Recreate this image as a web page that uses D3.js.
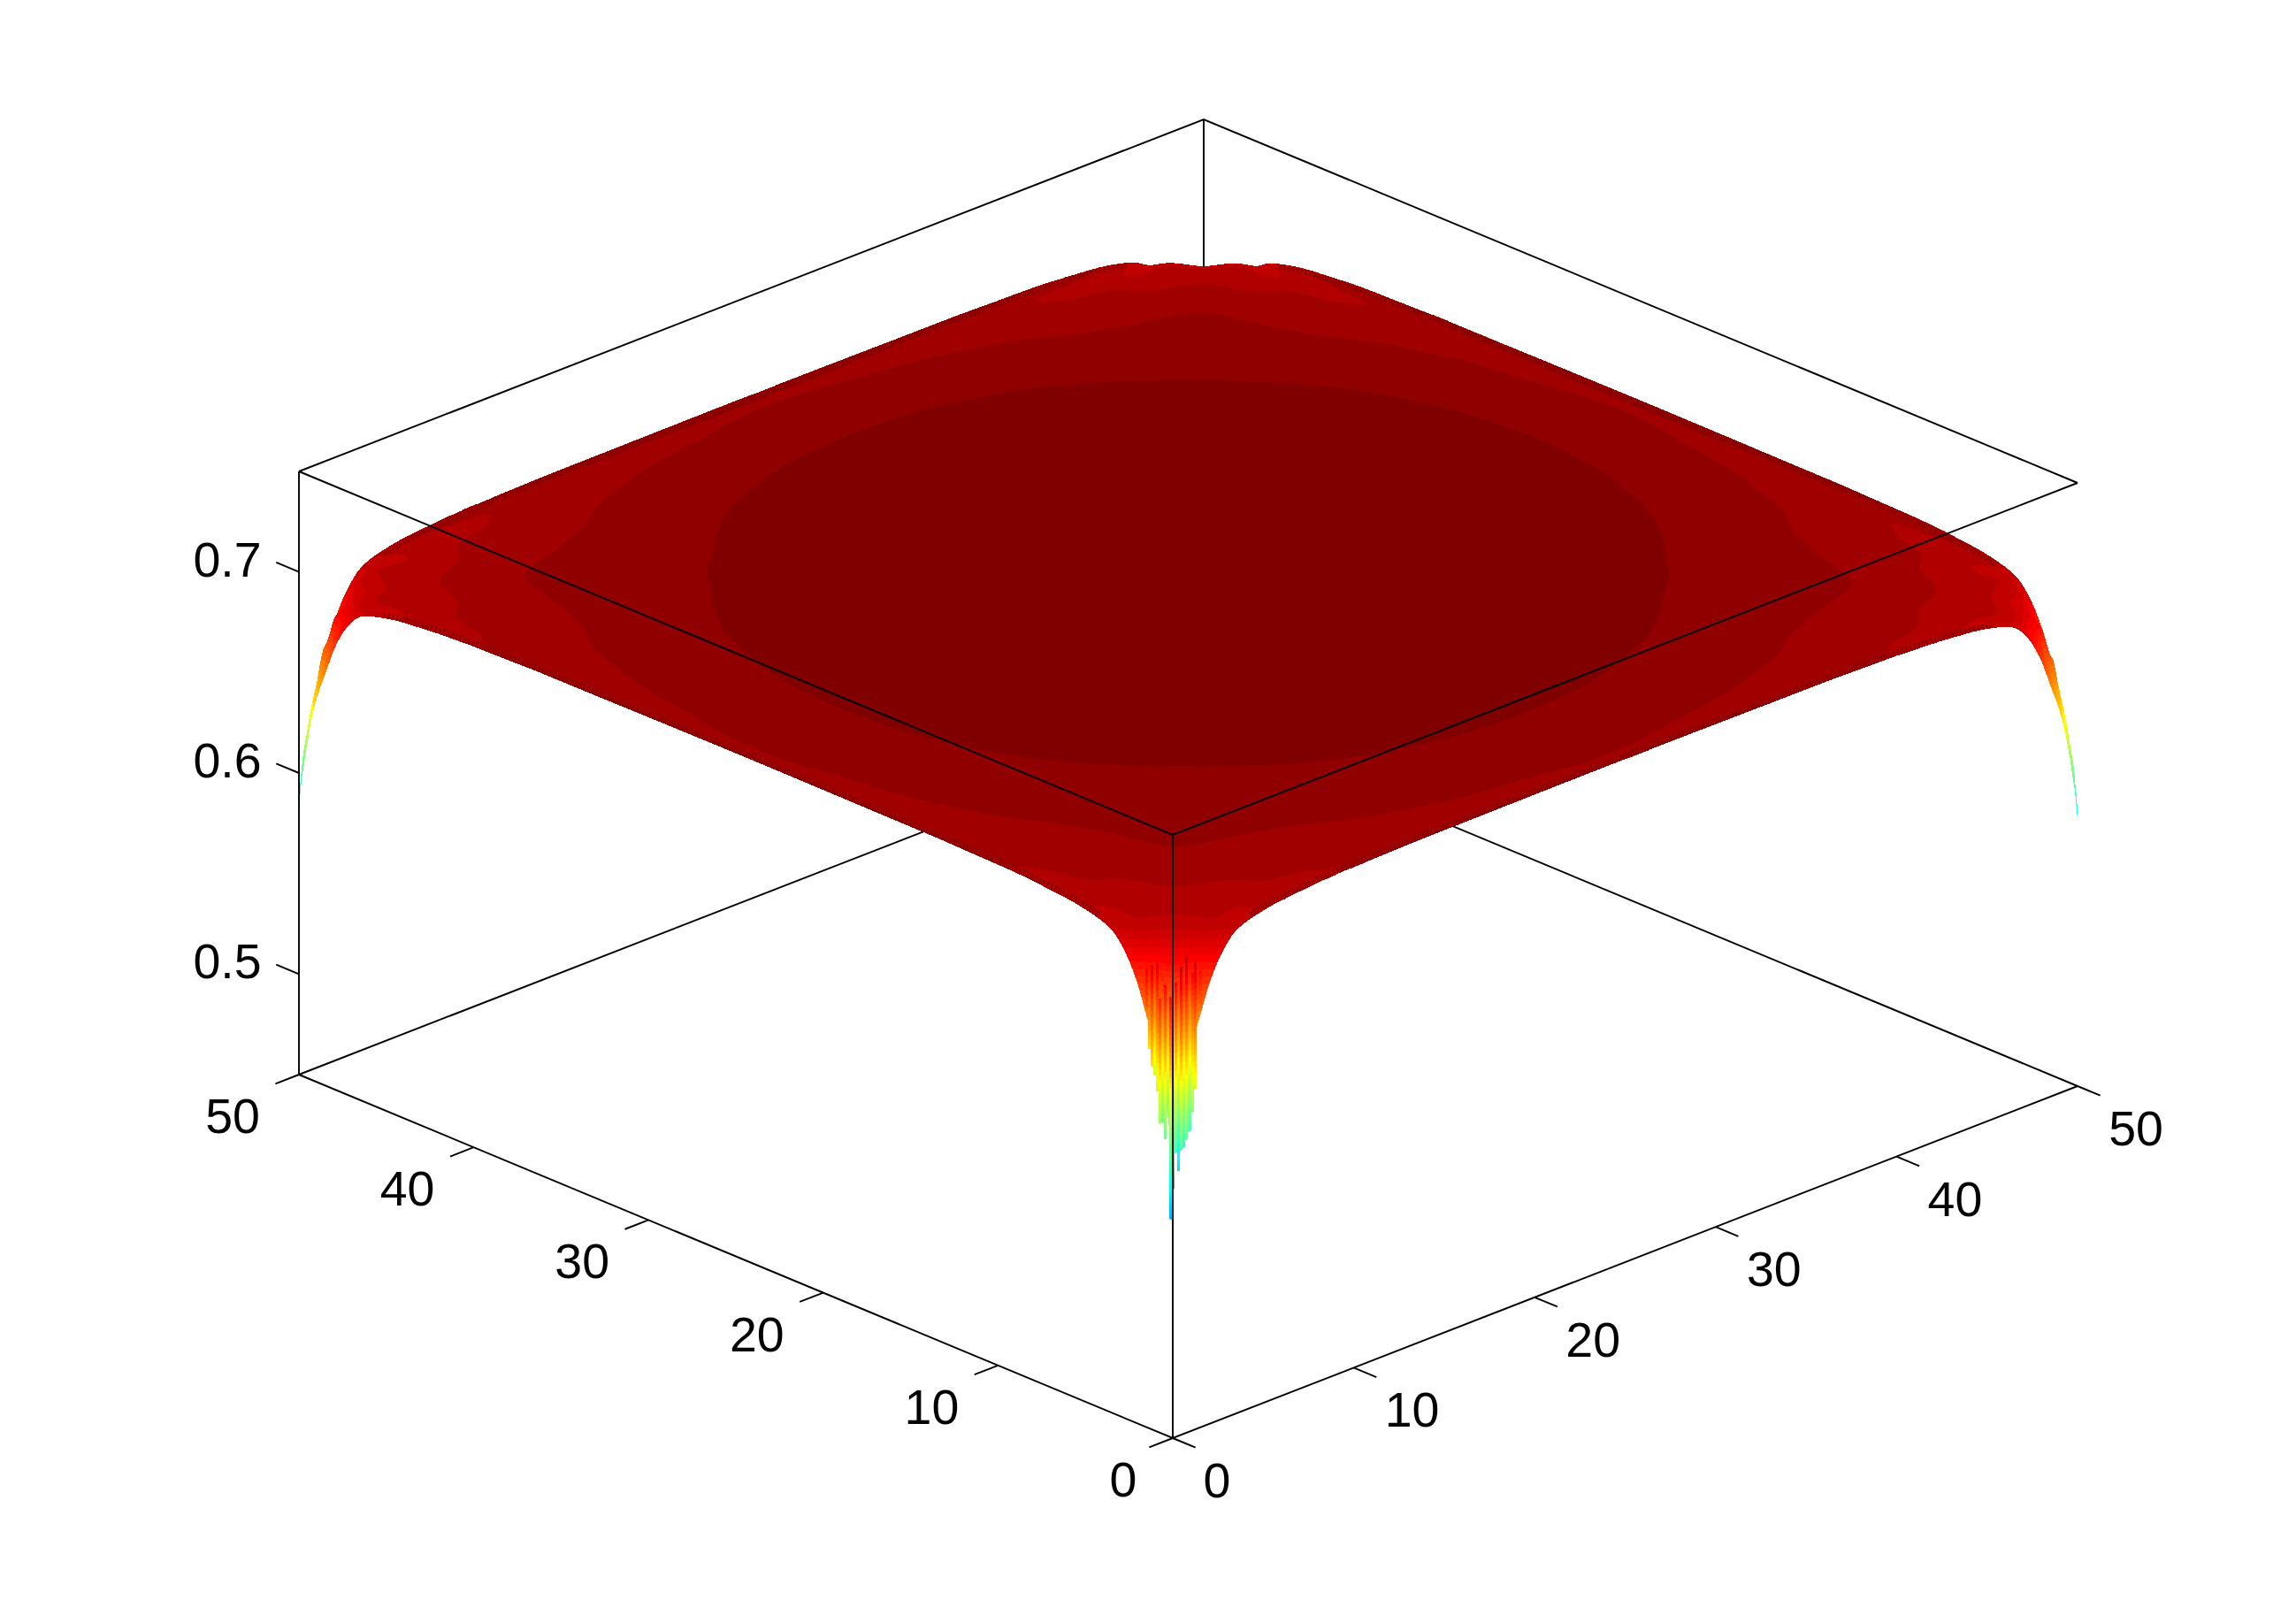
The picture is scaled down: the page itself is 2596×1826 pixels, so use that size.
<!DOCTYPE html>
<html>
<head>
<meta charset="utf-8">
<script src="https://cdn.jsdelivr.net/npm/d3@7"></script>
<style>
  body { margin: 0; background: #fff; }
  text { font-family: "Liberation Sans", Arial, sans-serif; font-size: 55.5px; fill: #000; }
</style>
</head>
<body>
<div id="chart"></div>
<script>
const WIDTH = 2596;
const HEIGHT = 1826;

const xTicks = [0, 10, 20, 30, 40, 50];
const yTicks = [0, 10, 20, 30, 40, 50];
const zTicks = [0.5, 0.6, 0.7];
const zLimits = [0.45, 0.75];
const colorLimits = [0.5131, 0.7051];

// surface is symmetric about x=25 and y=25, so only one corner of it is listed.
// gridDist = distance from an edge, zRows[j][i] = height at (gridDist[i], gridDist[j]), i <= j
const gridDist = [0, 0.05, 0.12, 0.25, 0.45, 0.7, 1, 1.5, 2, 2.7, 3.5, 4.5, 5.8, 7, 9, 11.4, 14, 17, 21, 25];
const zRows = [
  [0.585],
  [0.59, 0.595],
  [0.597, 0.6, 0.603],
  [0.608, 0.61, 0.613, 0.6175],
  [0.618, 0.62, 0.624, 0.63, 0.64],
  [0.63, 0.632, 0.635, 0.64, 0.648, 0.662],
  [0.641, 0.643, 0.646, 0.65, 0.656, 0.664, 0.677],
  [0.655, 0.657, 0.66, 0.664, 0.669, 0.675, 0.681, 0.687],
  [0.669, 0.67, 0.672, 0.675, 0.678, 0.682, 0.686, 0.6895, 0.6905],
  [0.682, 0.683, 0.684, 0.6855, 0.6875, 0.69, 0.6915, 0.6925, 0.693, 0.694],
  [0.6905, 0.6905, 0.6905, 0.6905, 0.691, 0.692, 0.693, 0.6936, 0.6941, 0.6949, 0.6955],
  [0.694, 0.6938, 0.6935, 0.6931, 0.6928, 0.6926, 0.6928, 0.6935, 0.6942, 0.6951, 0.696, 0.6968],
  [0.6964, 0.6962, 0.6958, 0.6952, 0.694, 0.6936, 0.6938, 0.6945, 0.695, 0.6957, 0.6965, 0.6974, 0.6985],
  [0.6975, 0.6972, 0.6968, 0.696, 0.695, 0.6945, 0.6948, 0.6957, 0.6962, 0.6968, 0.6974, 0.6983, 0.699, 0.6996],
  [0.699, 0.6987, 0.6983, 0.6975, 0.6958, 0.6956, 0.6959, 0.6962, 0.6966, 0.6972, 0.6979, 0.6986, 0.6993, 0.6999, 0.7009],
  [0.6995, 0.6993, 0.699, 0.6985, 0.6972, 0.6968, 0.6968, 0.697, 0.6973, 0.6978, 0.6984, 0.6991, 0.6998, 0.7004, 0.7012, 0.70205],
  [0.7, 0.6998, 0.6995, 0.699, 0.698, 0.6978, 0.6978, 0.698, 0.6983, 0.6988, 0.6994, 0.7, 0.7006, 0.7013, 0.702, 0.7027, 0.7034],
  [0.7001, 0.6999, 0.6997, 0.6992, 0.6985, 0.6984, 0.6984, 0.6987, 0.699, 0.6994, 0.6998, 0.7003, 0.701, 0.7019, 0.7026, 0.7033, 0.7039, 0.7043],
  [0.7003, 0.7001, 0.6999, 0.6994, 0.6988, 0.6988, 0.6989, 0.6991, 0.6994, 0.6998, 0.7003, 0.7009, 0.7019, 0.7025, 0.7032, 0.7038, 0.7043, 0.7046, 0.7049],
  [0.7004, 0.7002, 0.7, 0.6995, 0.699, 0.699, 0.6991, 0.6994, 0.6997, 0.7001, 0.7006, 0.7013, 0.7021, 0.7027, 0.7034, 0.704, 0.7045, 0.7048, 0.705, 0.705]
];

// the front corner breaks up into vertical stripes:
// stripe position as x-y, highest and lowest height of the stripe, colour offset of the stripe
const stripeU = [-1.62, -1.47, -1.32, -1.17, -1.02, -0.87, -0.72, -0.57, -0.42, -0.27, -0.12, 0.03, 0.18, 0.33, 0.48, 0.63, 0.78, 0.93, 1.08, 1.23, 1.38, 1.53];
const stripeTop = [0.672, 0.678, 0.668, 0.681, 0.671, 0.684, 0.666, 0.679, 0.674, 0.686, 0.669, 0.68, 0.676, 0.664, 0.683, 0.672, 0.687, 0.667, 0.678, 0.682, 0.673, 0.677];
const stripeEnd = [0.6608, 0.659, 0.6387, 0.6303, 0.6268, 0.6192, 0.6038, 0.6047, 0.5971, 0.6135, 0.5583, 0.5737, 0.5914, 0.5817, 0.5914, 0.5923, 0.5958, 0.5994, 0.6082, 0.6192, 0.6634, 0.6599];
const stripeShift = [0, 0.004, -0.002, 0.005, -0.004, 0.003, 0.008, -0.003, 0.006, -0.006, 0.01, -0.008, 0.004, -0.005, 0.007, -0.002, 0.005, -0.004, 0.003, 0.006, 0, 0.002];

// --------------- Projection ---------------
const xAcross = d3.scaleLinear().domain([0, 50]).range([0, 1023]);
const xRise = d3.scaleLinear().domain([0, 50]).range([0, -398]);
const yAcross = d3.scaleLinear().domain([0, 50]).range([0, -988]);
const yRise = d3.scaleLinear().domain([0, 50]).range([0, -411]);
const zRise = d3.scaleLinear().domain(zLimits).range([0, -682]);
const ORIGIN = [1326, 1626];
const TICK = 1.3;

function project(x, y, z) {
  return [
    ORIGIN[0] + xAcross(x) + yAcross(y),
    ORIGIN[1] + xRise(x) + yRise(y) + zRise(z)
  ];
}

// --------------- Colors ---------------
const jet = d3.scaleLinear()
  .domain([1, 8, 24, 40, 56, 64])
  .range(["#00008f", "#0000ff", "#00ffff", "#ffff00", "#ff0000", "#800000"]);
const color = d3.scaleQuantize()
  .domain(colorLimits)
  .range(d3.range(1, 65).map(d => jet(d)));
const bandEdges = color.thresholds();

// --------------- Surface ---------------
const last = gridDist.length - 1;
const nodes = d3.range(2 * last + 1).map(k => (k <= last ? gridDist[k] : 50 - gridDist[2 * last - k]));

function nodeZ(i, j) {
  const a = Math.min(i, 2 * last - i);
  const b = Math.min(j, 2 * last - j);
  return zRows[Math.max(a, b)][Math.min(a, b)];
}

// monotone cubic through the table, only so the mesh we draw is not faceted
function monotone(xs, ys) {
  const h = d3.pairs(xs, (a, b) => b - a);
  const s = h.map((d, i) => (ys[i + 1] - ys[i]) / d);
  const m = xs.map((_, i) => {
    if (i === 0) return s[0];
    if (i === xs.length - 1) return s[s.length - 1];
    if (s[i - 1] * s[i] <= 0) return 0;
    const h0 = h[i - 1], h1 = h[i];
    return 3 * (h0 + h1) / ((2 * h1 + h0) / s[i - 1] + (h1 + 2 * h0) / s[i]);
  });
  return x => {
    const i = Math.min(d3.bisectRight(xs, x) - 1, h.length - 1);
    const t = (x - xs[i]) / h[i];
    return ys[i] * (1 + 2 * t) * (1 - t) * (1 - t) + m[i] * h[i] * t * (1 - t) * (1 - t)
      + ys[i + 1] * t * t * (3 - 2 * t) + m[i + 1] * h[i] * t * t * (t - 1);
  };
}

const SUB = 3;
const fine = [];
d3.pairs(nodes).forEach(([a, b]) => {
  d3.range(SUB).forEach(k => fine.push(a + (b - a) * k / SUB));
});
fine.push(50);

const rowsOnFine = nodes.map((_, j) => fine.map(monotone(nodes, nodes.map((_, i) => nodeZ(i, j)))));
const zFine = fine.map((_, i) => fine.map(monotone(nodes, nodes.map((_, j) => rowsOnFine[j][i]))));

function vertex(i, j) {
  return [fine[i], fine[j], zFine[i][j]];
}

// cut a polygon to the part above or below a height
function clip(poly, limit, above) {
  const out = [];
  poly.forEach((p, n) => {
    const q = poly[(n + 1) % poly.length];
    const pIn = above ? p[2] >= limit : p[2] <= limit;
    const qIn = above ? q[2] >= limit : q[2] <= limit;
    if (pIn) out.push(p);
    if (pIn !== qIn) {
      const t = (limit - p[2]) / (q[2] - p[2]);
      out.push([p[0] + t * (q[0] - p[0]), p[1] + t * (q[1] - p[1]), limit]);
    }
  });
  return out;
}

const line = d3.line();
const pieces = [];
function addPiece(poly, fill) {
  const d = line(poly.map(p => project(p[0], p[1], p[2]))) + "Z";
  const prev = pieces[pieces.length - 1];
  // neighbours of one colour go in one path, keeps the page small
  if (prev && prev.fill === fill) prev.d += d;
  else pieces.push({ d: d, fill: fill });
}

function addTriangle(tri) {
  const zs = tri.map(d => d[2]);
  const first = d3.bisectRight(bandEdges, d3.min(zs));
  const end = d3.bisectRight(bandEdges, d3.max(zs));
  for (let k = first; k <= end; k++) {
    let poly = tri;
    if (k > 0) poly = clip(poly, bandEdges[k - 1], true);
    if (k < bandEdges.length && poly.length) poly = clip(poly, bandEdges[k], false);
    if (poly.length > 2) addPiece(poly, color.range()[k]);
  }
}

// back to front, we look at the surface from the x=0, y=0 corner
for (let i = fine.length - 2; i >= 0; i--) {
  for (let j = fine.length - 2; j >= 0; j--) {
    addTriangle([vertex(i + 1, j + 1), vertex(i + 1, j), vertex(i, j + 1)]);
    addTriangle([vertex(i, j), vertex(i, j + 1), vertex(i + 1, j)]);
  }
}

// --------------- Drawing ---------------
const svg = d3.select("#chart")
  .append("svg")
  .attr("width", WIDTH)
  .attr("height", HEIGHT);

function boxLines(g, lines) {
  g.selectAll("path")
    .data(lines)
    .join("path")
    .attr("d", d => line(d.map(p => project(p[0], p[1], p[2]))))
    .attr("fill", "none")
    .attr("stroke", "#000")
    .attr("stroke-width", 1.9);
}

const [zLo, zHi] = zLimits;

// lines behind the surface
boxLines(svg.append("g"), [
  [[0, 50, zLo], [50, 50, zLo], [50, 0, zLo]],
  [[50, 50, zLo], [50, 50, zHi]],
  [[0, 50, zHi], [50, 50, zHi], [50, 0, zHi]]
]);

svg.append("g")
  .attr("shape-rendering", "crispEdges")
  .selectAll("path")
  .data(pieces)
  .join("path")
  .attr("d", d => d.d)
  .attr("fill", d => d.fill)
  .attr("stroke", d => d.fill)
  .attr("stroke-width", 0.8);

// dark serrated rim along the four edges, kept just inside the outline
const rimNodes = nodes.filter(d => d >= 4.5 && d <= 45.5);
const rimZ = n => nodeZ(0, nodes.indexOf(n));
const rims = [
  rimNodes.map(n => project(0.25, n, rimZ(n))),
  rimNodes.map(n => project(n, 0.25, rimZ(n))),
  rimNodes.map(n => project(49.75, n, rimZ(n))),
  rimNodes.map(n => project(n, 49.75, rimZ(n)))
];
const rimLine = d3.line().curve(d3.curveMonotoneX);
svg.append("g")
  .selectAll("path")
  .data(rims)
  .join("path")
  .attr("d", rimLine)
  .attr("fill", "none")
  .attr("stroke", "#840000")
  .attr("stroke-width", 5)
  .attr("stroke-dasharray", "2 3");

// stripes at the front corner
function cornerPoint(u, z) {
  return project(Math.max(u, 0), Math.max(-u, 0), z);
}
const stripeBits = [];
stripeU.forEach((u, n) => {
  const shift = stripeShift[n];
  const cuts = bandEdges.filter(t => t - shift > stripeEnd[n] && t - shift < stripeTop[n]);
  const stops = [stripeEnd[n]].concat(cuts.map(t => t - shift), [stripeTop[n]]);
  d3.pairs(stops).forEach(([lo, hi]) => {
    stripeBits.push({ u: u, lo: lo, hi: hi, fill: color((lo + hi) / 2 + shift) });
  });
});
svg.append("g")
  .attr("shape-rendering", "crispEdges")
  .selectAll("path")
  .data(stripeBits)
  .join("path")
  .attr("d", d => line([
    cornerPoint(d.u - 0.075, d.hi),
    cornerPoint(d.u + 0.075, d.hi),
    cornerPoint(d.u + 0.075, d.lo),
    cornerPoint(d.u - 0.075, d.lo)
  ]) + "Z")
  .attr("fill", d => d.fill);

// lines in front of the surface
boxLines(svg.append("g"), [
  [[0, 50, zHi], [0, 0, zHi], [50, 0, zHi]],
  [[0, 0, zLo], [0, 0, zHi]],
  [[0, 50, zLo], [0, 0, zLo], [50, 0, zLo]],
  [[0, 50, zLo], [0, 50, zHi]]
]);

// --------------- Axes ---------------
const tickLines = []
  .concat(xTicks.map(d => [[d, 0, zLo], [d, -TICK, zLo]]))
  .concat(yTicks.map(d => [[0, d, zLo], [-TICK, d, zLo]]))
  .concat(zTicks.map(d => [[0, 50, d], [0, 50 + TICK, d]]));
boxLines(svg.append("g"), tickLines);

const labels = svg.append("g").attr("text-anchor", "middle");

function addLabels(values, pos, fmt) {
  labels.append("g")
    .selectAll("text")
    .data(values)
    .join("text")
    .attr("transform", d => `translate(${pos(d)})`)
    .attr("dy", "0.36em")
    .text(fmt);
}

addLabels(xTicks, d => {
  const p = project(d, 0, zLo);
  return [p[0] + (d === 0 ? 50 : 66), p[1] + 47];
}, d => d);
addLabels(yTicks, d => {
  const p = project(0, d, zLo);
  return [p[0] - (d === 0 ? 56 : 75), p[1] + 46];
}, d => d);
addLabels(zTicks, d => {
  const p = project(0, 50, d);
  return [p[0] - 81, p[1] - 15];
}, d3.format(".1f"));
</script>
</body>
</html>
